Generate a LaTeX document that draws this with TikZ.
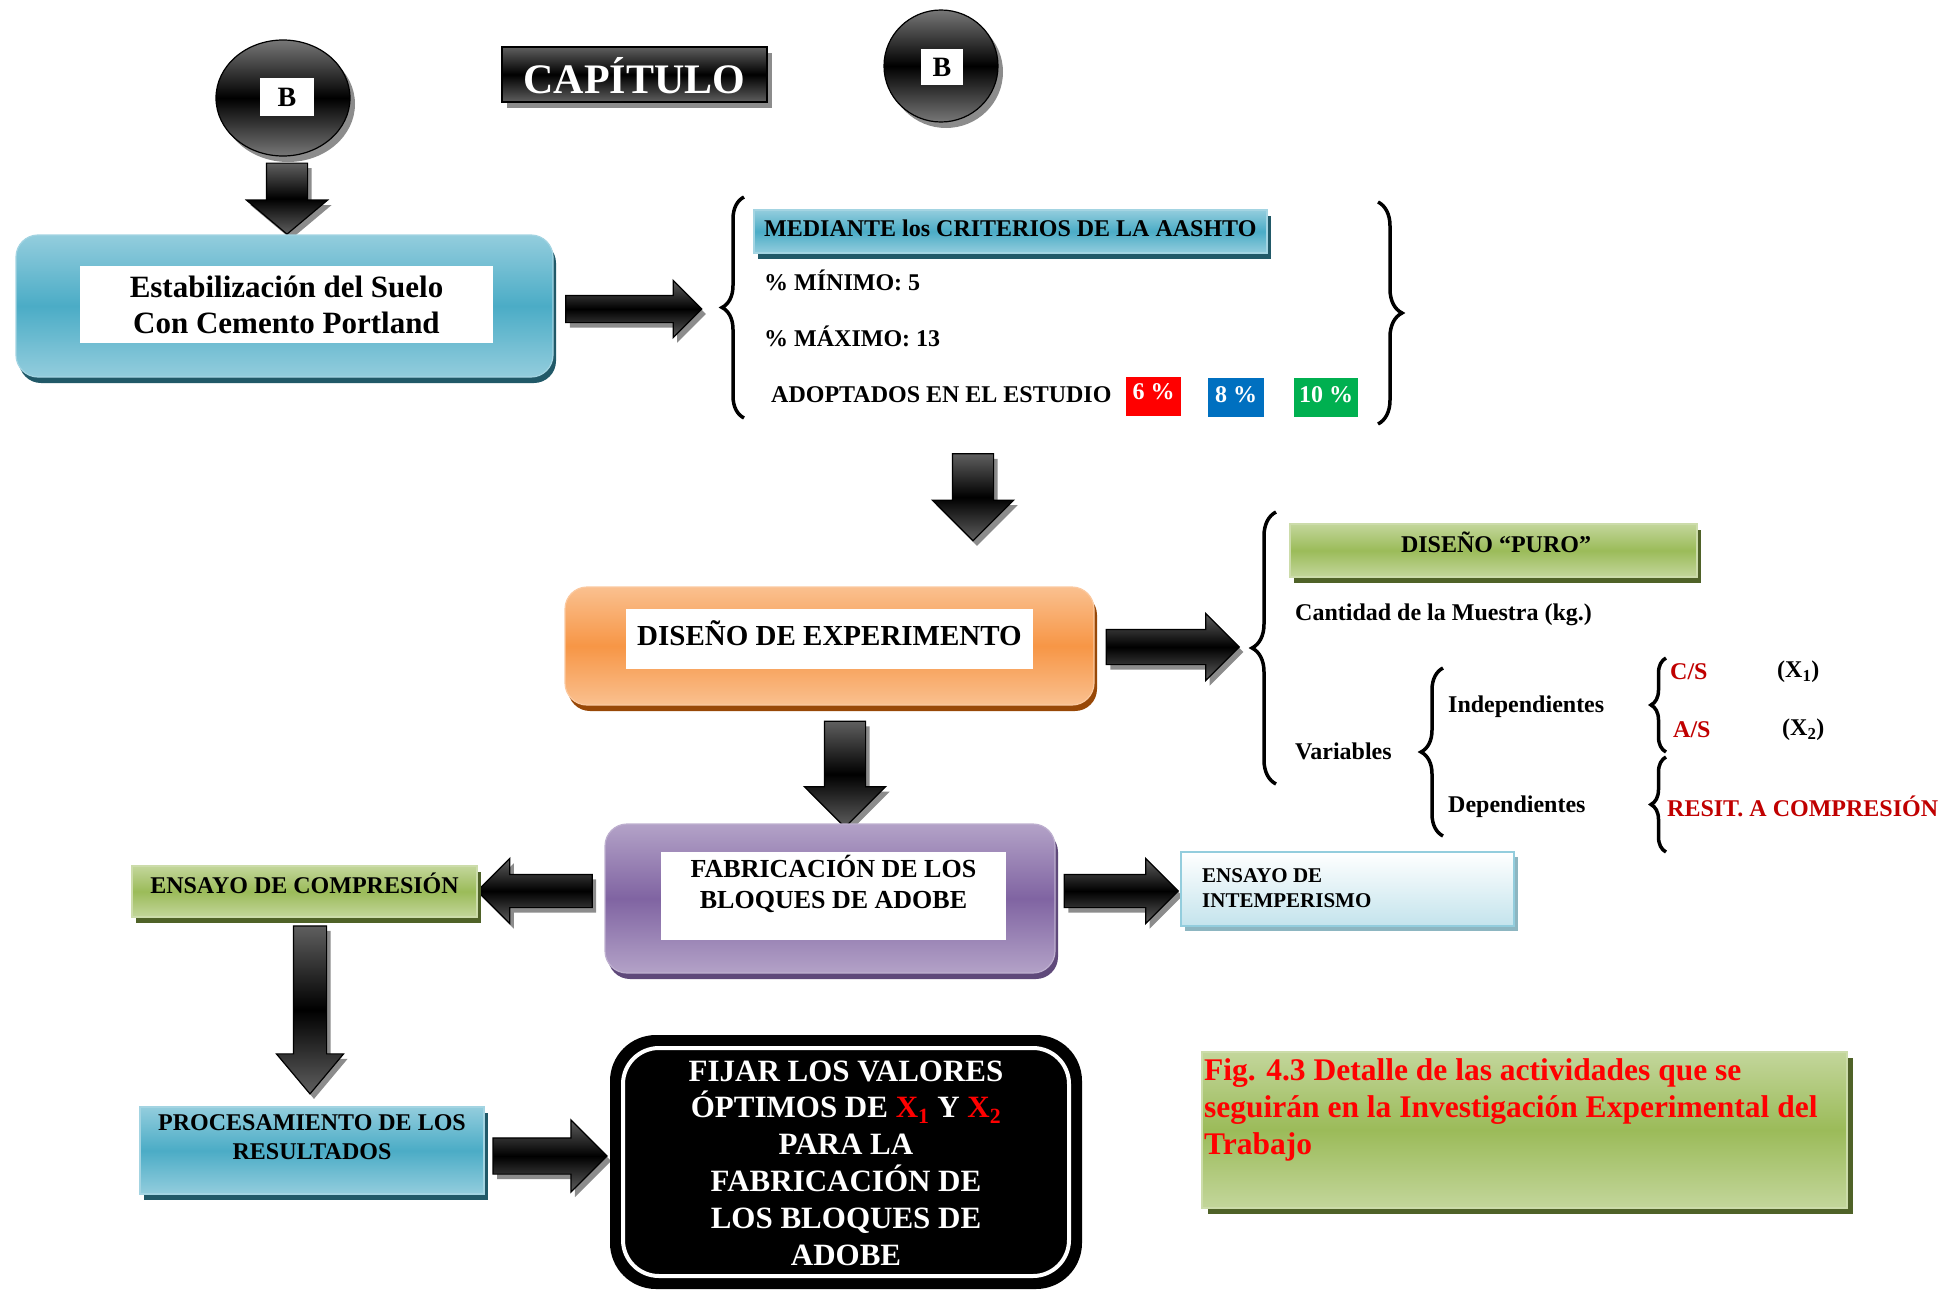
\documentclass[tikz,border=0pt]{standalone}
\usepackage{fontspec}
\setmainfont{Liberation Serif}
\usetikzlibrary{shapes.geometric,shapes.arrows,shadows,decorations.pathreplacing,calc}
\newcommand\myfs[2]{\fontsize{#1}{#2}\selectfont}
\definecolor{blueL}{HTML}{93CDDD}
\definecolor{blueM}{HTML}{4BACC6}
\definecolor{blueD}{HTML}{215968}
\definecolor{orL}{HTML}{FAC08F}
\definecolor{orM}{HTML}{F79646}
\definecolor{orD}{HTML}{984807}
\definecolor{puL}{HTML}{B3A2C7}
\definecolor{puM}{HTML}{8064A2}
\definecolor{puD}{HTML}{5F497A}
\definecolor{grL}{HTML}{C3D69B}
\definecolor{grM}{HTML}{9BBB59}
\definecolor{grD}{HTML}{4F6228}
\definecolor{darkred}{HTML}{C00000}
\definecolor{pblue}{HTML}{0070C0}
\definecolor{pgreen}{HTML}{00B050}
\definecolor{arrG}{HTML}{5F5F5F}
\definecolor{shG}{HTML}{8C8C8C}
\tikzset{
  every node/.style={font=\bfseries, inner sep=0pt},
  barrow/.style={single arrow, draw=black, line width=1.2pt,
    top color=arrG, bottom color=arrG, middle color=black,
    single arrow tip angle=90,
    drop shadow={shadow xshift=4pt, shadow yshift=-5pt, fill=shG, opacity=1}},
  harrow/.style={barrow, inner xsep=0pt, inner ysep=#1},
  varrow/.style={barrow, inner ysep=0pt, inner xsep=#1, shape border rotate=270},
  gradbox/.style n args={4}{draw=#1!85!white, line width=1.2pt,
    top color=#1, bottom color=#1, middle color=#2,
    drop shadow={shadow xshift=#4, shadow yshift=-6pt, fill=#3, opacity=1}},
  bigbox/.style={rounded corners=22pt},
  ballB/.style={ellipse, draw=black, line width=1.2pt,
    top color=arrG!85!white, bottom color=arrG!85!white, middle color=black,
    drop shadow={shadow xshift=5pt, shadow yshift=-6pt, fill=shG, opacity=1}},
  whitesq/.style={fill=white},
  brc/.style={decorate, decoration={brace, amplitude=#1}, line width=3.5pt},
}
\begin{document}
\begin{tikzpicture}[x=1pt,y=-1pt]
\useasboundingbox (0,0) rectangle (1957,1290);

% --- top balls and title
\node[ballB, minimum width=134, minimum height=116] (ball1) at (283,98) {};
\node[whitesq, minimum width=54, minimum height=37, font=\bfseries\myfs{28}{30}] (ball1t) at (287,97) {B};
\node[draw=black, line width=1.5pt, top color=arrG, bottom color=arrG, middle color=black,
  minimum width=265, minimum height=55,
  drop shadow={shadow xshift=5pt, shadow yshift=-6pt, fill=shG, opacity=1}] (cap) at (634.5,74.5) {};
\node[text=white, font=\bfseries\myfs{42}{44}] (capt) at (634.5,76) {CAPÍTULO};
\node[ballB, minimum width=114, minimum height=112] (ball2) at (941,66) {};
\node[whitesq, minimum width=42, minimum height=35, font=\bfseries\myfs{28}{30}] (ball2t) at (942,67) {B};

% --- Estabilizacion
\node[varrow=20pt, minimum height=71, single arrow head extend=20, single arrow tip angle=100] (a1) at (287,190) {};
\node[gradbox={blueL}{blueM}{blueD}{3pt}, bigbox, minimum width=537, minimum height=142] (estab) at (284.5,306) {};
\node[whitesq, minimum width=413, minimum height=77] (estabw) at (286.5,304.5) {};
\node[align=center, font=\bfseries\myfs{31}{36}] (estabt) at (286.5,305) {Estabilización del Suelo\\Con Cemento Portland};
\node[harrow=13pt, minimum height=136, single arrow head extend=15, shape border rotate=0] (a2) at (627,309) {};

% --- criterios
\draw[brc=22pt] (744,418) -- (744,197);
\draw[brc=24pt] (1378,202) -- (1378,424);
\node[gradbox={blueL}{blueM}{blueD}{4pt}, minimum width=513, minimum height=43] (med) at (1010.5,231.5) {};
\node[anchor=west, font=\bfseries\myfs{24}{26}] (medt) at (764,228) {MEDIANTE los CRITERIOS DE LA AASHTO};
\node[anchor=west, font=\bfseries\myfs{24}{26}] (mint) at (764,280) {\% MÍNIMO: 5};
\node[anchor=west, font=\bfseries\myfs{24}{26}] (maxt) at (764,336) {\% MÁXIMO: 13};
\node[anchor=west, font=\bfseries\myfs{24}{26}] (adot) at (771,395) {ADOPTADOS EN EL ESTUDIO};
\node[fill=red, minimum width=55, minimum height=39] (p6) at (1153.5,396.5) {};
\node[text=white, font=\bfseries\myfs{24}{26}] (p6t) at (1153.5,392) {6 \%};
\node[fill=pblue, minimum width=56, minimum height=39] (p8) at (1236,397.5) {};
\node[text=white, font=\bfseries\myfs{24}{26}] (p8t) at (1236,395) {8 \%};
\node[fill=pgreen, minimum width=64, minimum height=39] (p10) at (1326,397.5) {};
\node[text=white, font=\bfseries\myfs{24}{26}] (p10t) at (1326,395) {10 \%};

% --- Diseno de experimento
\node[varrow=20pt, minimum height=87, single arrow head extend=20] (a3) at (973,487) {};
\node[gradbox={orL}{orM}{orD}{3pt}, bigbox, minimum width=529, minimum height=118] (dis) at (829.5,646) {};
\node[whitesq, minimum width=407, minimum height=60] (disw) at (829.5,639) {};
\node[font=\bfseries\myfs{29}{32}] (dist) at (829.5,633) {DISEÑO DE EXPERIMENTO};
\node[harrow=17pt, minimum height=133, single arrow head extend=16, shape border rotate=0] (a4) at (1164,647) {};

% --- right branch
\draw[brc=24pt] (1276,784) -- (1276,512);
\node[gradbox={grL}{grM}{grD}{4pt}, minimum width=407, minimum height=53] (puro) at (1493.5,550.5) {};
\node[font=\bfseries\myfs{24}{26}] (purot) at (1496,542) {DISEÑO “PURO”};
\node[anchor=west, font=\bfseries\myfs{24}{26}] (cant) at (1295,615) {Cantidad de la Muestra (kg.)};
\node[anchor=west, font=\bfseries\myfs{24}{26}] (vart) at (1295,751) {Variables};
\draw[brc=22pt] (1443,836) -- (1443,668);
\node[anchor=west, font=\bfseries\myfs{24}{26}] (indt) at (1448,707) {Independientes};
\node[anchor=west, font=\bfseries\myfs{24}{26}] (dept) at (1448,807) {Dependientes};
\draw[brc=15pt] (1666,752) -- (1666,658);
\draw[brc=15pt] (1666,852) -- (1666,757);
\node[anchor=west, text=darkred, font=\bfseries\myfs{24}{26}] (cs) at (1670,672) {C/S};
\node[anchor=west, font=\bfseries\myfs{24}{26}] (x1) at (1777,672) {(X\textsubscript{1})};
\node[anchor=west, text=darkred, font=\bfseries\myfs{24}{26}] (as) at (1673,730) {A/S};
\node[anchor=west, font=\bfseries\myfs{24}{26}] (x2) at (1782,730) {(X\textsubscript{2})};
\node[anchor=west, text=darkred, font=\bfseries\myfs{24}{26}] (resit) at (1667,806) {RESIT. A COMPRESIÓN};

% --- Fabricacion
\node[varrow=20pt, minimum height=106, single arrow head extend=20] (a5) at (845,764) {};
\node[gradbox={puL}{puM}{puD}{3pt}, bigbox, minimum width=450, minimum height=149] (fab) at (830,898.5) {};
\node[whitesq, minimum width=345, minimum height=88] (fabw) at (833.5,896) {};
\node[align=center, font=\bfseries\myfs{26}{31}] (fabt) at (833.5,884) {FABRICACIÓN DE LOS\\BLOQUES DE ADOBE};
\node[harrow=16pt, minimum height=115, single arrow head extend=16, shape border rotate=180] (a6) at (543,891) {};
\node[gradbox={grL}{grM}{grD}{4pt}, minimum width=345, minimum height=51] (comp) at (304.5,891.5) {};
\node[font=\bfseries\myfs{24}{26}] (compt) at (304.5,883) {ENSAYO DE COMPRESIÓN};
\node[harrow=16pt, minimum height=114, single arrow head extend=16, shape border rotate=0] (a7) at (1113,891) {};
\node[draw=blueL, line width=2pt, top color=white, bottom color=blueL!55,
  drop shadow={shadow xshift=4pt, shadow yshift=-5pt, fill=blueL!70!gray, opacity=1},
  minimum width=333, minimum height=74] (intem) at (1347.5,889) {};
\node[anchor=west, align=left, font=\bfseries\myfs{21}{25}] (intemt) at (1202,888.5) {ENSAYO DE\\INTEMPERISMO};

% --- bottom
\node[varrow=16pt, minimum height=168, single arrow head extend=17, single arrow tip angle=80] (a8) at (310,1000) {};
\node[gradbox={blueL}{blueM}{blueD}{4pt}, minimum width=344, minimum height=87] (proc) at (312,1150.5) {};
\node[align=center, font=\bfseries\myfs{24}{29}] (proct) at (312,1137.5) {PROCESAMIENTO DE LOS\\RESULTADOS};
\node[harrow=17.5pt, minimum height=114, single arrow head extend=18, shape border rotate=0] (a9) at (541,1156) {};
\node[draw=black, fill=black, line width=2pt, rounded corners=45pt, minimum width=470, minimum height=252] (fijar) at (846,1162) {};
\node[draw=white, line width=4pt, rounded corners=36pt, minimum width=446, minimum height=228] (fijarin) at (fijar.center) {};
\node[align=center, text=white, font=\bfseries\myfs{31}{36.8}] (fijart) at (846,1163) {FIJAR LOS VALORES\\ÓPTIMOS DE \textcolor{red}{X\textsubscript{1}} Y \textcolor{red}{X\textsubscript{2}}\\PARA LA\\FABRICACIÓN DE\\LOS BLOQUES DE\\ADOBE};
\node[gradbox={grL}{grM}{grD}{6pt}, minimum width=645, minimum height=156] (fig) at (1524.5,1130) {};
\node[anchor=north west, align=left, text=red, font=\bfseries\myfs{31.5}{37}] (figt) at (1204,1058) {Fig. 4.3 Detalle de las actividades que se\\seguirán en la Investigación Experimental del\\Trabajo};
\end{tikzpicture}
\end{document}
